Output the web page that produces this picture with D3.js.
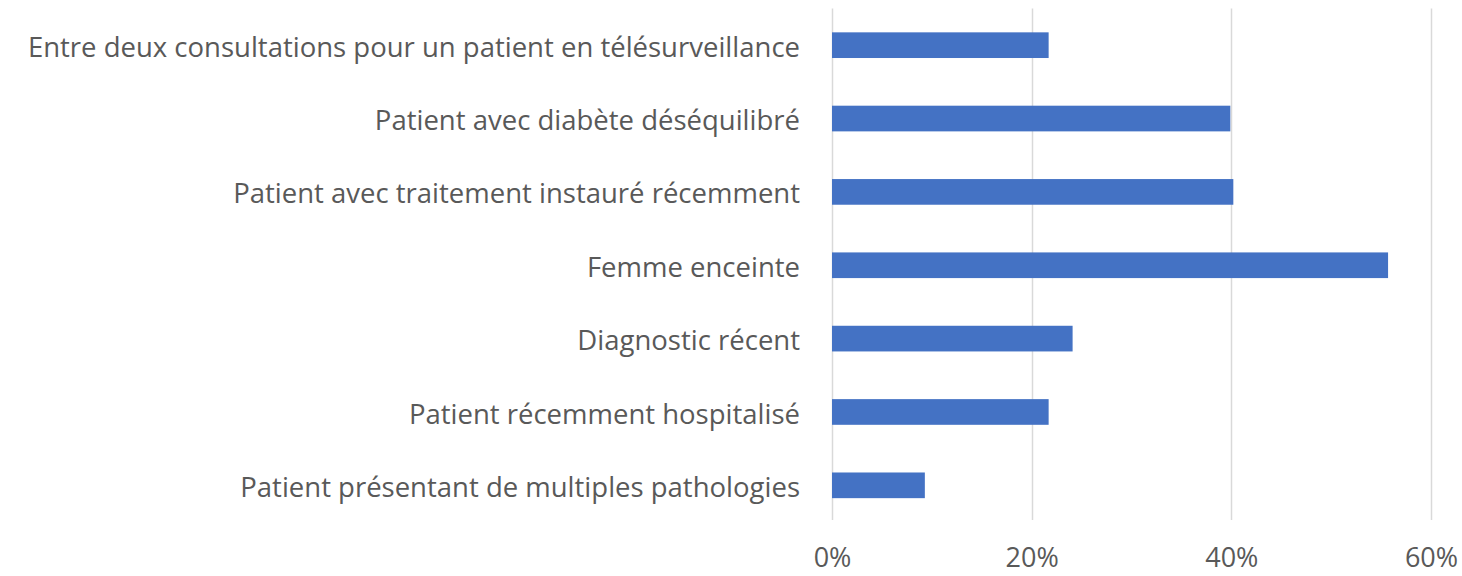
<!DOCTYPE html>
<html>
<head>
<meta charset="utf-8">
<script src="https://cdn.jsdelivr.net/npm/d3@7"></script>
<style>
  html, body { margin: 0; padding: 0; background: #fff; }
  svg { display: block; }
  text { font-family: "Open Sans", "Liberation Sans", sans-serif; fill: #595959; }
</style>
</head>
<body>
<svg id="chart" width="1462" height="576"></svg>
<script>
const categories = [
  "Entre deux consultations pour un patient en télésurveillance",
  "Patient avec diabète déséquilibré",
  "Patient avec traitement instauré récemment",
  "Femme enceinte",
  "Diagnostic récent",
  "Patient récemment hospitalisé",
  "Patient présentant de multiples pathologies"
];
const values = [21.7, 39.9, 40.2, 55.7, 24.1, 21.7, 9.3];
const tickValues = [0, 20, 40, 60];
const tickLabels = ["0%", "20%", "40%", "60%"];

const svg = d3.select("#chart");
const margin = { left: 832, right: 31, top: 8.5, bottom: 54 };
const W = 1462, H = 576;

const x = d3.scaleLinear().domain([0, 60]).range([margin.left, W - margin.right]);
const y = d3.scaleBand().domain(categories).range([margin.top, H - margin.bottom]).paddingInner(0.65).paddingOuter(0.325);

// gridlines
svg.append("g").selectAll("line").data(tickValues).join("line")
  .attr("x1", d => Math.round(x(d)) + 0.5).attr("x2", d => Math.round(x(d)) + 0.5)
  .attr("y1", margin.top).attr("y2", H - margin.bottom - 2)
  .attr("stroke", "#d9d9d9").attr("stroke-width", 1.5);

// bars
svg.append("g").selectAll("rect").data(values).join("rect")
  .attr("x", x(0))
  .attr("y", (d, i) => y(categories[i]))
  .attr("width", d => x(d) - x(0))
  .attr("height", y.bandwidth())
  .attr("fill", "#4472C4");

// x axis tick labels
const xAxis = d3.axisBottom(x).tickValues(tickValues).tickFormat((d, i) => tickLabels[i]).tickSize(0).tickPadding(0);
const gx = svg.append("g").attr("transform", `translate(0, ${H - 9})`).call(xAxis);
gx.select(".domain").remove();
gx.selectAll("text").attr("font-size", 27).attr("y", 0).attr("dy", "0");

// y axis labels
const yAxis = d3.axisLeft(y).tickSize(0).tickPadding(32);
const gy = svg.append("g").attr("transform", `translate(${x(0)},0)`).call(yAxis);
gy.select(".domain").remove();
gy.selectAll("text").attr("font-size", 27.5).attr("dy", "0.42em");
svg.selectAll("g").attr("font-family", null).attr("font-size", null);
</script>
</body>
</html>
